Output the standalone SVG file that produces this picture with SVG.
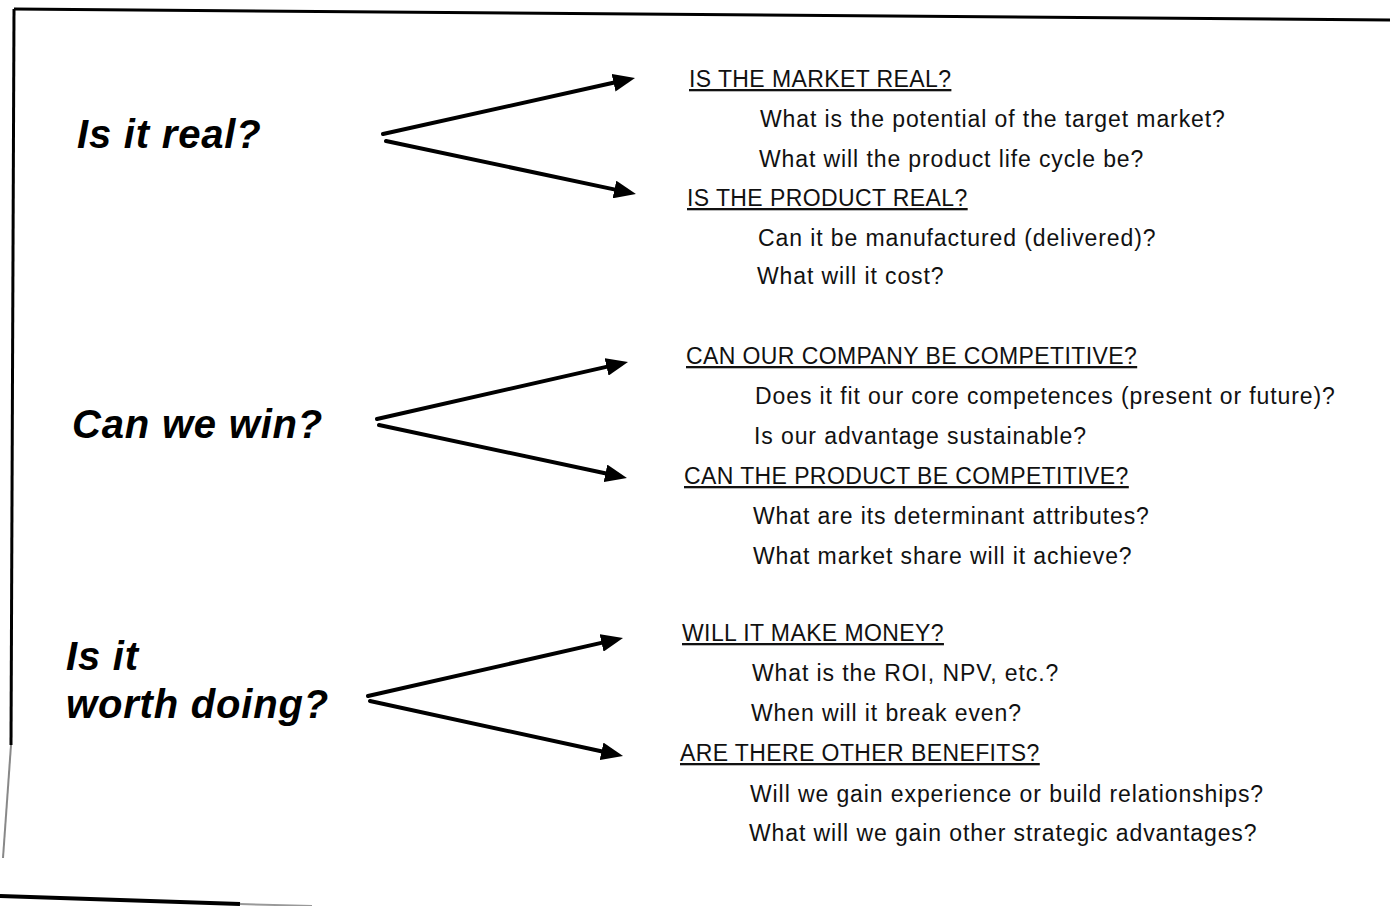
<svg xmlns="http://www.w3.org/2000/svg" width="1390" height="906" viewBox="0 0 1390 906">
<defs>
<marker id="ah" markerUnits="userSpaceOnUse" markerWidth="24" markerHeight="18" refX="2" refY="9" orient="auto">
<path d="M0,0 L22,9 L0,18 Z" fill="#000"/>
</marker>
<style>
.q{font-family:"Liberation Sans",Arial,sans-serif;font-weight:bold;font-style:italic;font-size:40px;letter-spacing:0.8px;fill:#000}
.h{font-family:"Liberation Sans",Arial,sans-serif;font-size:23px;letter-spacing:0.4px;fill:#111;text-decoration:underline}
.s{font-family:"Liberation Sans",Arial,sans-serif;font-size:23px;letter-spacing:0.9px;fill:#111}
.c{stroke:#000;stroke-width:4;fill:none;stroke-linecap:round}
.b{stroke:#000;fill:none}
</style>
</defs>
<rect width="1390" height="906" fill="#fff"/>
<g id="frame">
<path class="b" d="M14,9 L1390,20" stroke-width="3"/>
<path class="b" d="M14,9 L11,745" stroke-width="3"/>
<path d="M11,745 L3,858" stroke="#888" stroke-width="2" fill="none"/>
<path d="M0,896 L240,904" stroke="#000" stroke-width="4" fill="none"/>
<path d="M240,904 L312,906" stroke="#999" stroke-width="2" fill="none"/>
</g>
<g id="connectors">
<line class="c" x1="383" y1="134" x2="615.5" y2="82.3" marker-end="url(#ah)"/>
<line class="c" x1="386" y1="141" x2="616.4" y2="189.9" marker-end="url(#ah)"/>
<line class="c" x1="377" y1="419" x2="608.5" y2="366.4" marker-end="url(#ah)"/>
<line class="c" x1="379" y1="425" x2="607.4" y2="473.8" marker-end="url(#ah)"/>
<line class="c" x1="368" y1="696" x2="603.5" y2="642.4" marker-end="url(#ah)"/>
<line class="c" x1="370" y1="701" x2="603.5" y2="751.8" marker-end="url(#ah)"/>
</g>
<g id="q-real"><text class="q" x="77" y="148">Is it real?</text></g>
<g id="q-win"><text class="q" x="72" y="438">Can we win?</text></g>
<g id="q-worth"><text class="q" x="66" y="670">Is it</text><text class="q" x="66" y="718">worth doing?</text></g>
<g id="market-real">
<text class="h" x="689" y="87">IS THE MARKET REAL?</text>
<text class="s" x="760" y="127">What is the potential of the target market?</text>
<text class="s" x="759" y="167">What will the product life cycle be?</text>
</g>
<g id="product-real">
<text class="h" x="687" y="206">IS THE PRODUCT REAL?</text>
<text class="s" x="758" y="246">Can it be manufactured (delivered)?</text>
<text class="s" x="757" y="284">What will it cost?</text>
</g>
<g id="company-competitive">
<text class="h" x="686" y="364">CAN OUR COMPANY BE COMPETITIVE?</text>
<text class="s" x="755" y="404">Does it fit our core competences (present or future)?</text>
<text class="s" x="754" y="444">Is our advantage sustainable?</text>
</g>
<g id="product-competitive">
<text class="h" x="684" y="484">CAN THE PRODUCT BE COMPETITIVE?</text>
<text class="s" x="753" y="524">What are its determinant attributes?</text>
<text class="s" x="753" y="564">What market share will it achieve?</text>
</g>
<g id="make-money">
<text class="h" x="682" y="641">WILL IT MAKE MONEY?</text>
<text class="s" x="752" y="681">What is the ROI, NPV, etc.?</text>
<text class="s" x="751" y="721">When will it break even?</text>
</g>
<g id="other-benefits">
<text class="h" x="680" y="761">ARE THERE OTHER BENEFITS?</text>
<text class="s" x="750" y="802">Will we gain experience or build relationships?</text>
<text class="s" x="749" y="841">What will we gain other strategic advantages?</text>
</g>
</svg>
